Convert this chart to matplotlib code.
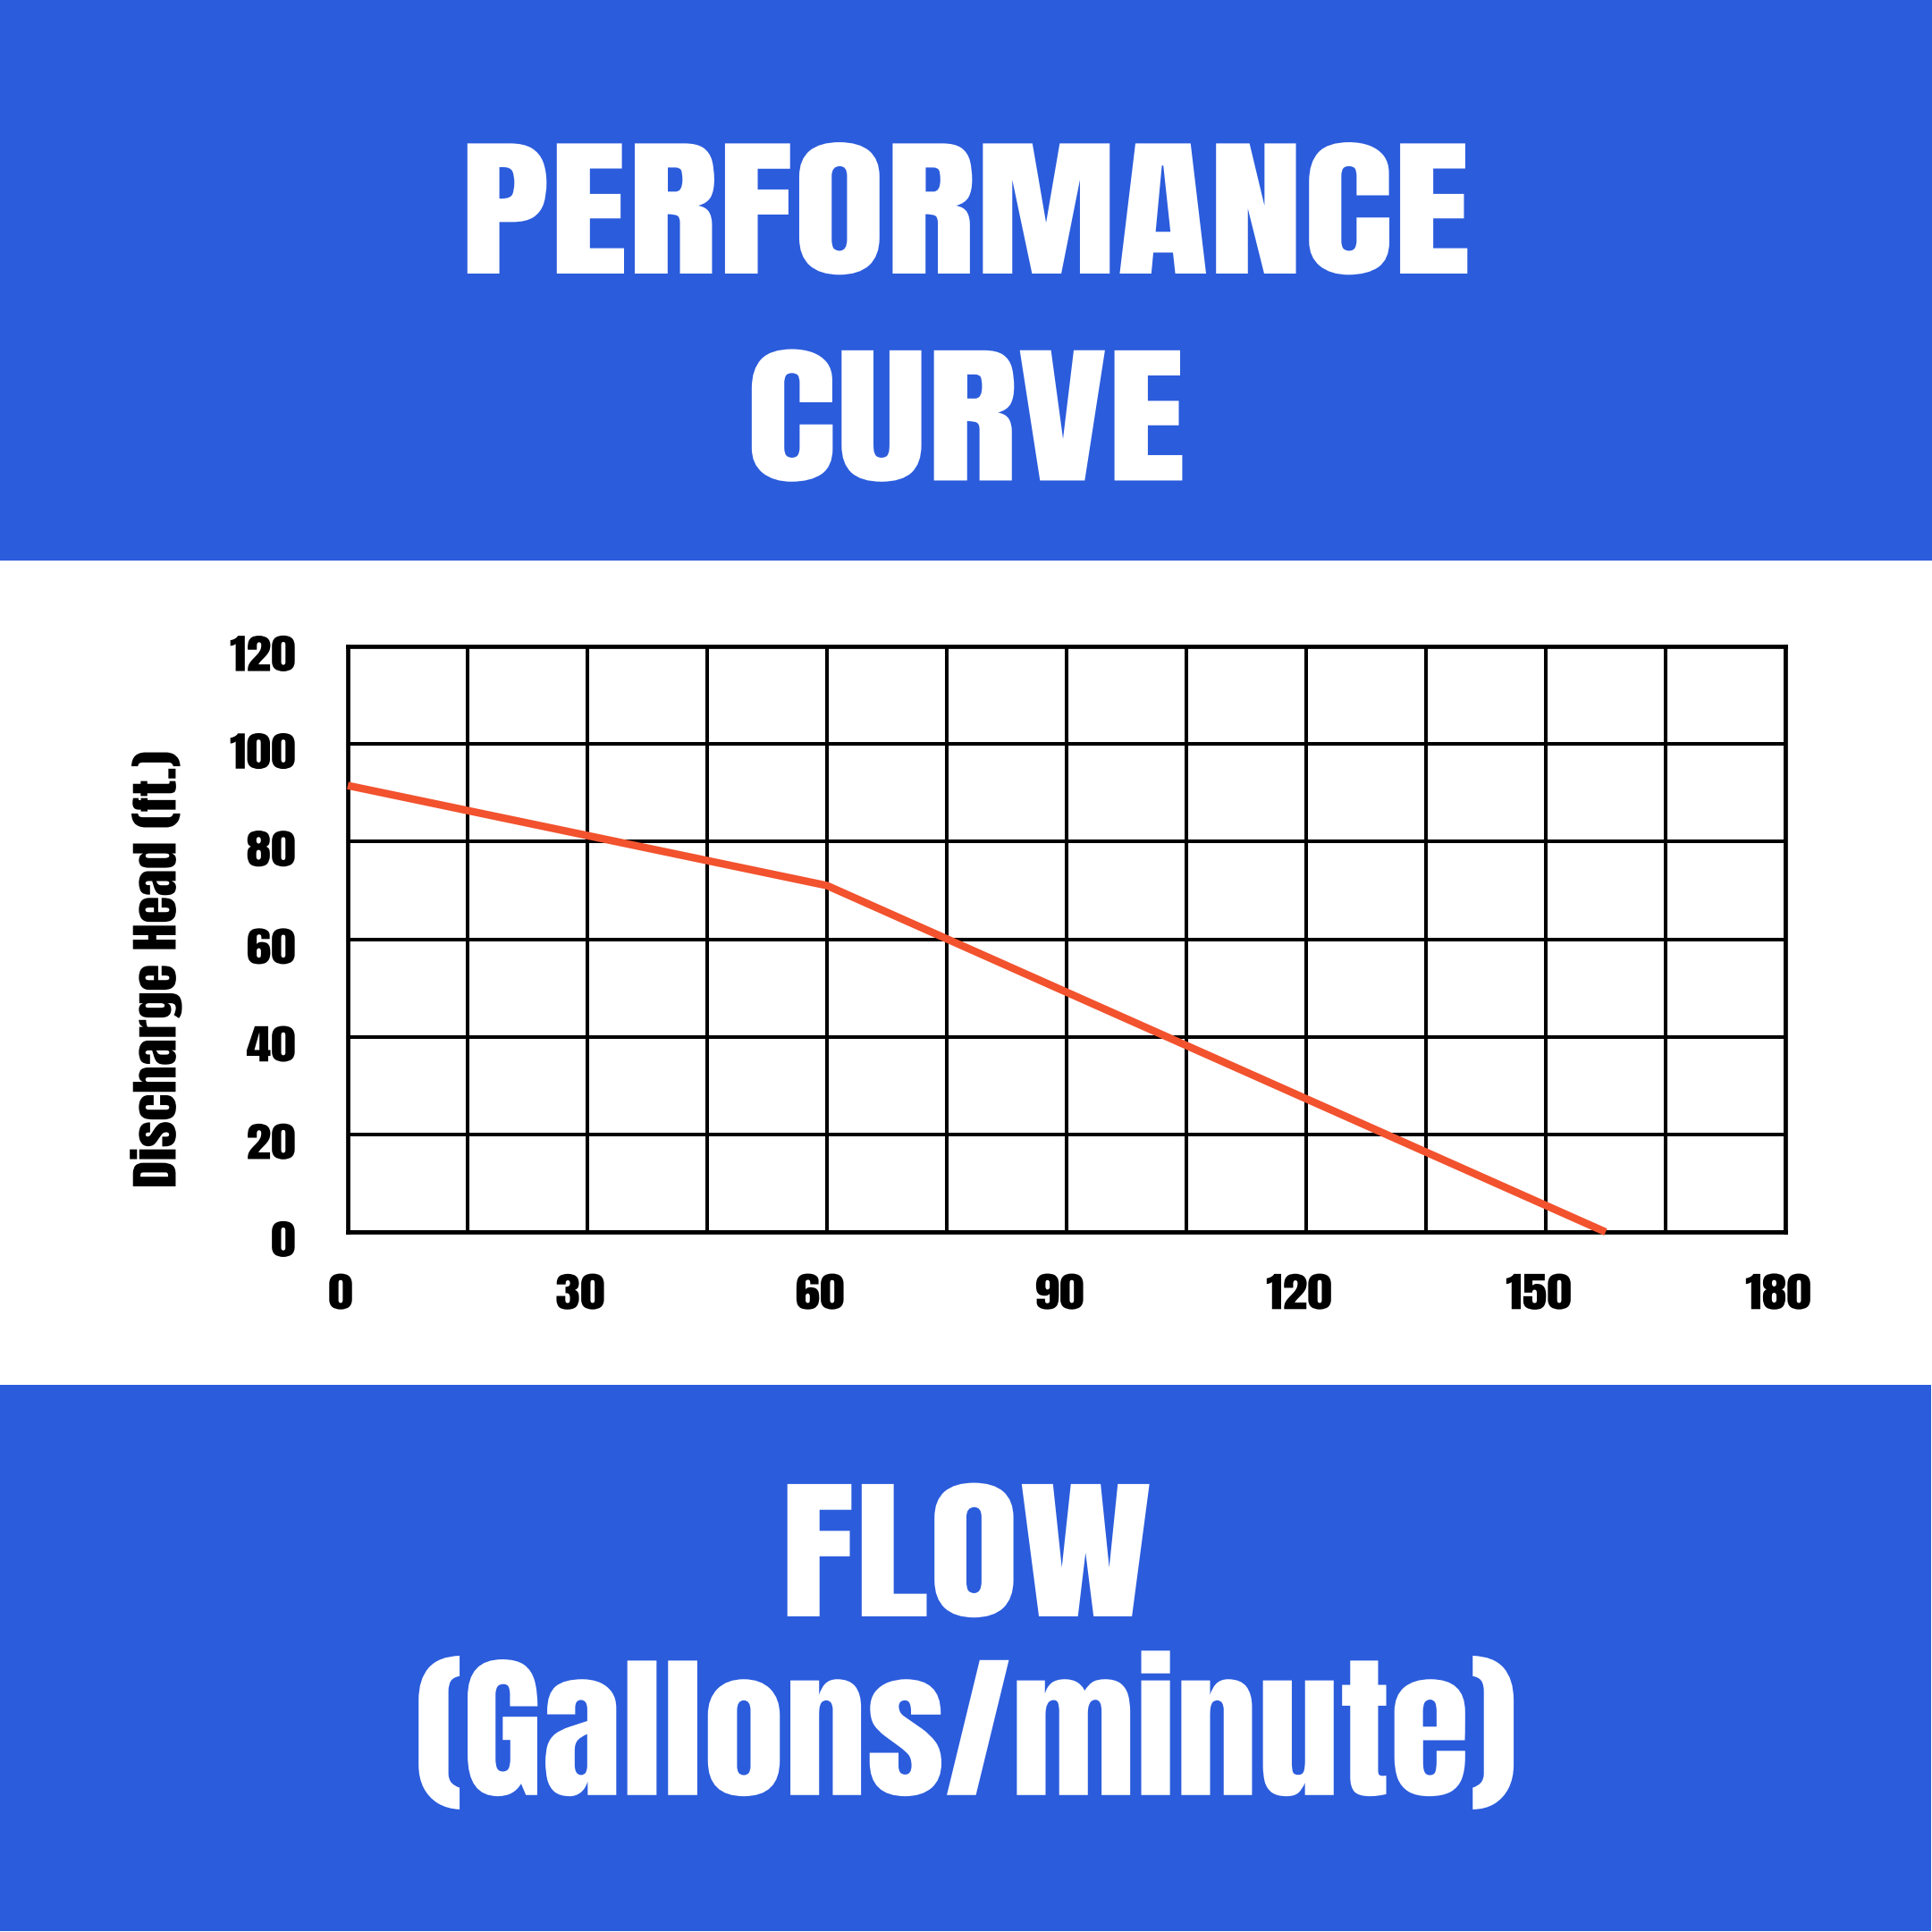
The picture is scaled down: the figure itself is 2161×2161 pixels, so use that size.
import matplotlib
matplotlib.use("Agg")
import matplotlib.pyplot as plt
from matplotlib.patches import Rectangle
from matplotlib.ticker import MultipleLocator
from matplotlib.transforms import ScaledTranslation, Affine2D
from matplotlib.patheffects import AbstractPathEffect

# pump curve
flow = [0, 60, 157.5]
head = [91.5, 71, 0]

x_ticks = [0, 30, 60, 90, 120, 150, 180]
y_ticks = [0, 20, 40, 60, 80, 100, 120]

title_lines = ["PERFORMANCE", "CURVE"]
bottom_lines = ["FLOW", "(Gallons/minute)"]
y_label = "Discharge Head (ft.)"

blue = "#2B5CDC"
orange = "#F2522E"
font = ["Anton", "Oswald", "DejaVu Sans"]


# the poster font is a bit wider than Anton, so stretch the glyphs a little
class Widen(AbstractPathEffect):
    def __init__(self, text, s, anchor=0.5, vertical=False):
        super().__init__()
        self.text = text
        self.s = s
        self.anchor = anchor
        self.vertical = vertical

    def draw_path(self, renderer, gc, tpath, affine, rgbFace=None):
        bb = self.text.get_window_extent(renderer)
        if self.vertical:
            c = bb.y0 + self.anchor * bb.height
            extra = Affine2D().translate(0, -c).scale(1, self.s).translate(0, c)
        else:
            c = bb.x0 + self.anchor * bb.width
            extra = Affine2D().translate(-c, 0).scale(self.s, 1).translate(c, 0)
        renderer.draw_path(gc, tpath, affine + extra, rgbFace)


def widen(t, s, anchor=0.5, vertical=False):
    t.set_path_effects([Widen(t, s, anchor, vertical)])


fig = plt.figure(figsize=(21.61, 21.61), dpi=100)
fig.patch.set_facecolor("white")

# blue bands top and bottom
fig.patches.append(Rectangle((0, 0.7098), 1, 0.2902, transform=fig.transFigure,
                             facecolor=blue, edgecolor="none", zorder=0))
fig.patches.append(Rectangle((0, 0.0005), 0.9995, 0.2827, transform=fig.transFigure,
                             facecolor=blue, edgecolor="none", zorder=0))

t = fig.text(0.5, 0.8584, title_lines[0], color="white", fontsize=122, family=font,
             ha="center", va="baseline")
widen(t, 1.25)
t = fig.text(0.5, 0.7513, title_lines[1], color="white", fontsize=122, family=font,
             ha="center", va="baseline")
widen(t, 1.26)
t = fig.text(0.5, 0.1634, bottom_lines[0], color="white", fontsize=124, family=font,
             ha="center", va="baseline")
widen(t, 1.21)
t = fig.text(0.5, 0.0709, bottom_lines[1], color="white", fontsize=126, family=font,
             ha="center", va="baseline")
widen(t, 1.05)

ax = fig.add_axes([0.1800, 0.3623, 0.7441, 0.3031])
ax.plot(flow, head, color=orange, lw=6.1, solid_capstyle="butt",
        solid_joinstyle="round", zorder=3, clip_on=False)

ax.set_xlim(0, 180)
ax.set_ylim(0, 120)
ax.xaxis.set_major_locator(MultipleLocator(30))
ax.xaxis.set_minor_locator(MultipleLocator(15))
ax.set_xticks(x_ticks)
ax.set_yticks(y_ticks)
ax.grid(True, which="both", color="black", lw=2.9)
ax.set_axisbelow(True)
for s in ax.spines.values():
    s.set_linewidth(3.4)
    s.set_color("black")

ax.tick_params(which="both", length=0)
ax.tick_params(axis="x", pad=34)
ax.tick_params(axis="y", pad=42)
for lab in ax.get_xticklabels() + ax.get_yticklabels():
    lab.set_family(font)
    lab.set_fontsize(33)

# labels in the picture sit a little left / low of their lines
dx = ScaledTranslation(-8 / 100, 0, fig.dpi_scale_trans)
dy = ScaledTranslation(0, -8 / 100, fig.dpi_scale_trans)
for lab in ax.get_xticklabels():
    lab.set_transform(lab.get_transform() + dx)
    widen(lab, 1.22)
for lab in ax.get_yticklabels():
    lab.set_transform(lab.get_transform() + dy)
    widen(lab, 1.22, anchor=1.0)

t = fig.text(0.0805, 0.498, y_label, rotation=90, fontsize=40, family=font,
             ha="center", va="center")
widen(t, 1.12, vertical=True)

fig.savefig("out.png", dpi=100)
